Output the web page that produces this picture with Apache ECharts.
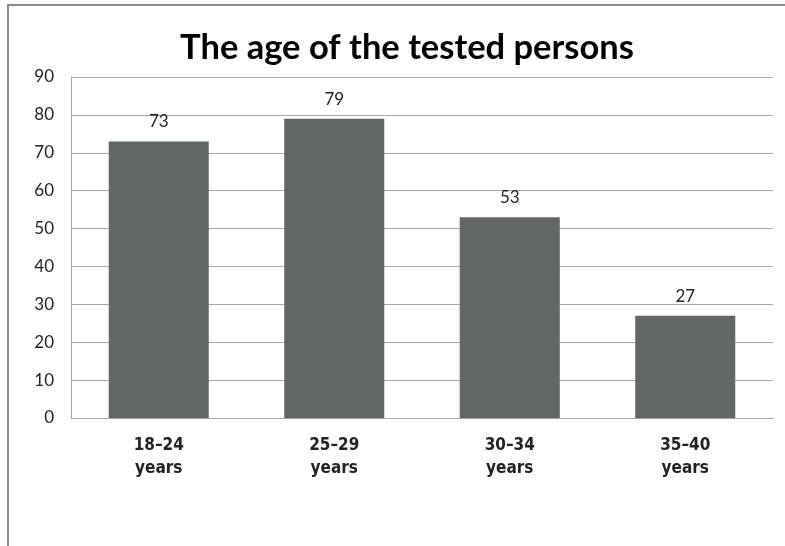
<!DOCTYPE html>
<html>
<head>
<meta charset="utf-8">
<script src="https://cdn.jsdelivr.net/npm/echarts@6/dist/echarts.min.js"></script>
<style>
  html, body { margin: 0; padding: 0; background: #fff; overflow: hidden; }
  #chart { width: 785px; height: 546px; }
  .frame {
    position: absolute; left: 7px; top: 4px; right: -10px; bottom: -10px;
    border: 2px solid #8a8a8a; pointer-events: none;
  }
</style>
</head>
<body>
<div id="chart"></div>
<div class="frame"></div>
<script>
const categories = ["18–24\nyears", "25–29\nyears", "30–34\nyears", "35–40\nyears"];
const counts = [73, 79, 53, 27];

const chart = echarts.init(document.getElementById("chart"));
chart.setOption({
  animation: false,
  backgroundColor: "#fff",
  title: {
    text: "The age of the tested persons",
    left: 402,
    textAlign: "center",
    top: 25,
    textStyle: { fontFamily: "Lato", fontWeight: "bold", fontSize: 34.5, color: "#000" }
  },
  grid: { left: 71, right: 12, top: 77, bottom: 128 },
  xAxis: {
    type: "category",
    data: categories,
    axisLine: { lineStyle: { color: "#a6a6a6" } },
    axisTick: { show: false },
    axisLabel: {
      margin: 16,
      lineHeight: 23,
      fontFamily: "Liberation Sans Narrow, DejaVu Sans Condensed, Lato",
      fontWeight: "bold",
      fontSize: 17,
      color: "#222"
    }
  },
  yAxis: {
    type: "value",
    min: 0,
    max: 90,
    interval: 10,
    axisLine: { show: true, lineStyle: { color: "#a6a6a6" } },
    axisTick: { show: false },
    splitLine: { lineStyle: { color: "#a6a6a6" } },
    axisLabel: { margin: 17, fontFamily: "Lato", fontSize: 17, color: "#222" }
  },
  series: [{
    type: "bar",
    data: counts,
    barWidth: "57%",
    itemStyle: { color: "#636666" },
    label: {
      show: true,
      position: "top",
      distance: 11,
      fontFamily: "Lato",
      fontSize: 17,
      color: "#222"
    }
  }]
});
</script>
</body>
</html>
